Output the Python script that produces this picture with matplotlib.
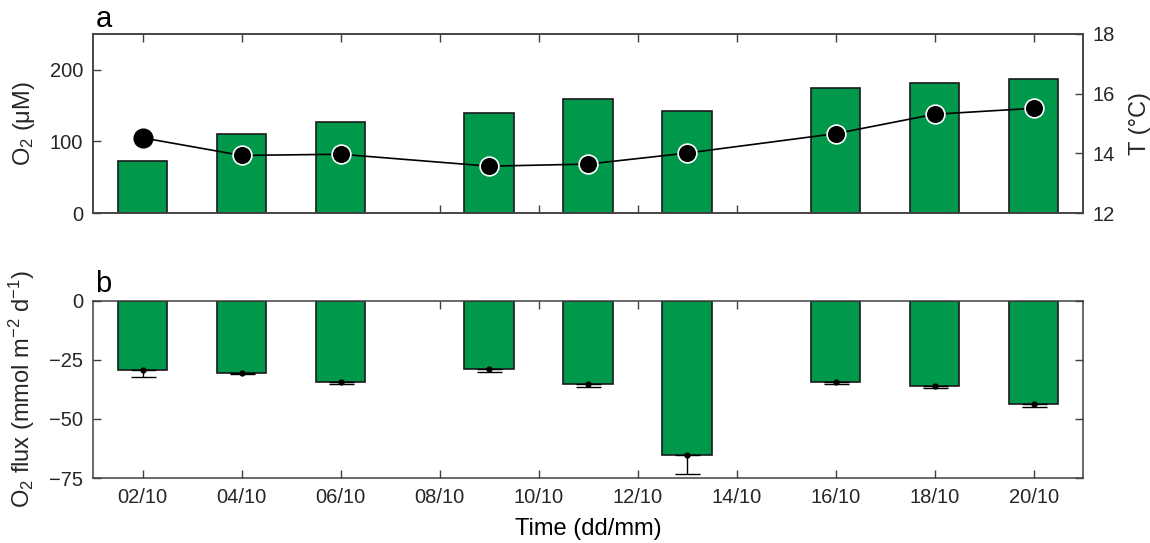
import matplotlib
matplotlib.use("Agg")
import matplotlib.pyplot as plt
import numpy as np

plt.rcParams["font.family"] = ["Liberation Sans", "DejaVu Sans"]
plt.rcParams["mathtext.fontset"] = "custom"
plt.rcParams["mathtext.rm"] = "Liberation Sans"
plt.rcParams["mathtext.it"] = "Liberation Sans:italic"
plt.rcParams["mathtext.default"] = "regular"

# sampling days in October
days = [2, 4, 6, 9, 11, 13, 16, 18, 20]
o2_conc = [72, 110, 127, 139, 159, 143, 175, 182, 187]
temp = [14.52, 13.93, 13.97, 13.57, 13.64, 14.01, 14.66, 15.31, 15.51]
o2_flux = [-29.4, -30.4, -34.5, -28.8, -35.2, -65.4, -34.5, -35.9, -43.5]
flux_err = [2.9, 0.7, 0.5, 1.4, 1.1, 8.0, 0.7, 1.1, 1.4]
tick_days = [2, 4, 6, 8, 10, 12, 14, 16, 18, 20]
tick_labels = ["02/10", "04/10", "06/10", "08/10", "10/10",
               "12/10", "14/10", "16/10", "18/10", "20/10"]

green = "#00994c"
spine_col = "#404040"
txt_col = "#262626"

fig = plt.figure(figsize=(11.5, 5.43), dpi=100)
ax1 = fig.add_axes([0.0809, 0.6077, 0.8609, 0.3297])
ax2 = fig.add_axes([0.0809, 0.1197, 0.8609, 0.3260])


def style(ax):
    for s in ax.spines.values():
        s.set_color(spine_col)
        s.set_linewidth(1.1)
    ax.tick_params(direction="in", length=6, width=1.0, color=spine_col,
                   labelsize=14.5, labelcolor=txt_col, pad=7)


# panel a
ax1.bar(days, o2_conc, width=1.0, color=green, edgecolor="#1a1a1a",
        linewidth=1.2, zorder=2)
ax1.set_xlim(1, 21)
ax1.set_ylim(0, 250)
ax1.set_yticks([0, 100, 200])
ax1.set_xticks(tick_days)
ax1.set_xticklabels([])
ax1.tick_params(axis="x", top=True)
style(ax1)
ax1.set_ylabel(r"O$_2$ ($\mu$M)", fontsize=17, color=txt_col, labelpad=9)

axt = ax1.twinx()
axt.plot(days, temp, color="black", lw=1.2, zorder=3)
axt.plot(days[:1], temp[:1], "o", color="black", ms=13.5, mec="black",
         zorder=4)
axt.plot(days[1:], temp[1:], "o", color="black", ms=13.5, mec="white",
         mew=1.2, zorder=4)
axt.set_ylim(12, 18)
axt.set_yticks([12, 14, 16, 18])
style(axt)
axt.set_ylabel("T (°C)", fontsize=17, color=txt_col, labelpad=10)
fig.text(0.083, 0.965, "a", fontsize=21, color="black", ha="left", va="center")

# panel b
ax2.bar(days, o2_flux, width=1.0, color=green, edgecolor="#1a1a1a",
        linewidth=1.2, zorder=2)
ax2.errorbar(days, o2_flux, yerr=[flux_err, np.zeros(len(flux_err))],
             fmt="o", ms=3.5, color="black", ecolor="black", elinewidth=1.0,
             capsize=9, capthick=1.0, zorder=3)
ax2.set_xlim(1, 21)
ax2.set_ylim(-75, 0)
ax2.set_yticks([-75, -50, -25, 0])
ax2.set_yticklabels(["\u221275", "\u221250", "\u221225", "0"])
ax2.set_xticks(tick_days)
ax2.set_xticklabels(tick_labels)
ax2.tick_params(top=True, right=True)
style(ax2)
ax2.set_ylabel(r"O$_2$ flux (mmol m$^{-2}$ d$^{-1}$)", fontsize=17,
               color=txt_col, labelpad=9)
ax2.set_xlabel("Time (dd/mm)", fontsize=17, color="black", labelpad=8)
fig.text(0.083, 0.477, "b", fontsize=21, color="black", ha="left", va="center")

fig.savefig("out.png", dpi=100)
